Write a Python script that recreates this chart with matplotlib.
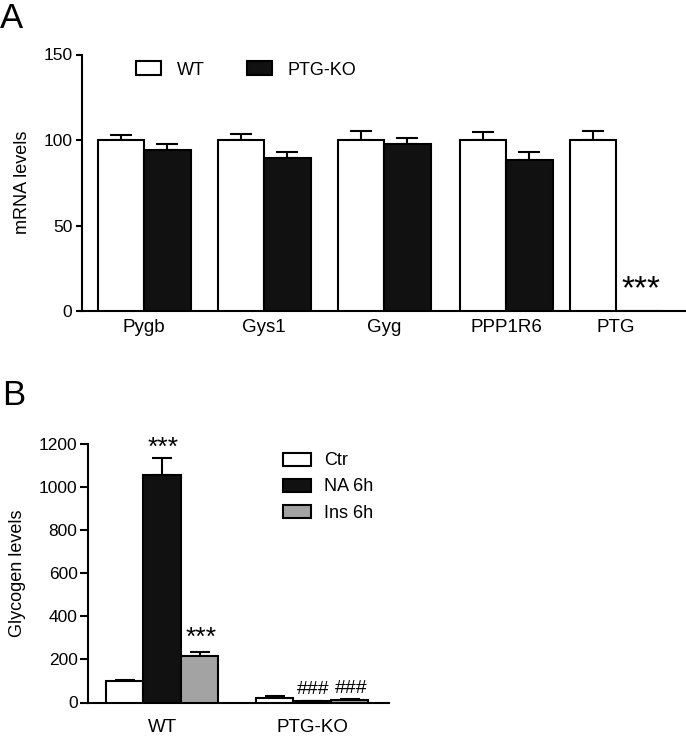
import matplotlib
matplotlib.use('Agg')
import matplotlib.pyplot as plt
import numpy as np

plt.rcParams['font.family'] = ['Liberation Sans', 'DejaVu Sans']

# ---------------- Panel A data ----------------
genes = ['Pygb', 'Gys1', 'Gyg', 'PPP1R6', 'PTG']
wt_mrna = [100, 100, 100, 100, 100]
wt_mrna_sem = [3.2, 3.6, 5.0, 4.6, 5.4]
ko_mrna = [94, 89.5, 97.7, 88.3, 0]
ko_mrna_sem = [3.5, 3.6, 3.6, 4.7, 0]
mrna_yticks = [0, 50, 100, 150]

# ---------------- Panel B data ----------------
genotypes = ['WT', 'PTG-KO']
treatments = ['Ctr', 'NA 6h', 'Ins 6h']
ctr_glyc = [101, 20]
ctr_sem = [3, 8]
na_glyc = [1055, 7]
na_sem = [82, 2]
ins_glyc = [215, 11]
ins_sem = [21, 3]
glyc_yticks = [0, 200, 400, 600, 800, 1000, 1200]

W, H = 686, 737
fig = plt.figure(figsize=(W / 100, H / 100), dpi=100)
BLACK = '#111111'
GRAY = '#a3a3a3'
LW = 1.5


def rect(l, t, r, b):
    return [l / W, 1 - b / H, (r - l) / W, (b - t) / H]


def style(ax):
    for s in ['top', 'right']:
        ax.spines[s].set_visible(False)
    for s in ['left', 'bottom']:
        ax.spines[s].set_linewidth(LW)


# ---------------- Panel A ----------------
axA = fig.add_axes(rect(82, 54.5, 686, 311))
style(axA)
gA = np.array([62, 182, 302, 424, 534])
wA = 46.5
bw = axA.bar(gA - wA / 2, wt_mrna, wA, color='white', edgecolor='black', linewidth=LW, zorder=3)
bk = axA.bar(gA + wA / 2, ko_mrna, wA, color=BLACK, edgecolor='black', linewidth=LW, zorder=3)
axA.errorbar(gA - wA / 2, wt_mrna, yerr=[np.zeros(5), wt_mrna_sem], fmt='none',
             ecolor='black', elinewidth=LW, capsize=8, capthick=LW, zorder=2)
axA.errorbar(gA[:4] + wA / 2, ko_mrna[:4], yerr=[np.zeros(4), ko_mrna_sem[:4]], fmt='none',
             ecolor='black', elinewidth=LW, capsize=8, capthick=LW, zorder=2)
axA.set_xlim(0, 604)
axA.set_ylim(0, 150)
axA.set_yticks(mrna_yticks)
axA.set_xticks(gA)
axA.set_xticklabels(genes, fontsize=13.5)
axA.tick_params(axis='x', length=0, pad=6)
axA.tick_params(axis='y', length=4.5, width=LW, pad=2.5, labelsize=12.5)
axA.set_ylabel('mRNA levels', fontsize=13)
axA.yaxis.set_label_coords((31 - 82) / 604, 0.5)
axA.text(gA[4] + wA / 2 + 2, 12.5, '***', ha='center', va='center', fontsize=24)
axA.legend([bw, bk], ['WT', 'PTG-KO'], ncol=2, frameon=False, fontsize=13,
           handlelength=1.39, handleheight=0.78, handletextpad=0.89, columnspacing=2.3,
           borderpad=0, borderaxespad=0, loc='center left',
           bbox_to_anchor=(136 / W, 1 - 70 / H), bbox_transform=fig.transFigure)

# ---------------- Panel B ----------------
axB = fig.add_axes(rect(88, 444, 389, 702.5))
style(axB)
gB = np.array([74, 224])
wB = 37.5
colors = ['white', BLACK, GRAY]
vals = [ctr_glyc, na_glyc, ins_glyc]
sems = [ctr_sem, na_sem, ins_sem]
handles = []
for k in range(3):
    x = gB + (k - 1) * wB
    b = axB.bar(x, vals[k], wB, color=colors[k], edgecolor='black', linewidth=LW, zorder=3)
    axB.errorbar(x, vals[k], yerr=[np.zeros(2), sems[k]], fmt='none', ecolor='black',
                 elinewidth=LW, capsize=7, capthick=LW, zorder=2)
    handles.append(b)
axB.set_xlim(0, 301)
axB.set_ylim(0, 1200)
axB.set_yticks(glyc_yticks)
axB.set_xticks(gB)
axB.set_xticklabels(genotypes, fontsize=13.5)
axB.tick_params(axis='x', length=0, pad=12)
axB.tick_params(axis='y', length=6, width=LW, pad=1.5, labelsize=12.5)
axB.set_ylabel('Glycogen levels', fontsize=13)
axB.yaxis.set_label_coords((26 - 88) / 301, 0.5)
axB.annotate('***', xy=(gB[0], na_glyc[0] + na_sem[0]), xytext=(1, 7), textcoords='offset points',
             ha='center', va='center', fontsize=19)
axB.annotate('***', xy=(gB[0] + wB, ins_glyc[0] + ins_sem[0]), xytext=(1, 10), textcoords='offset points',
             ha='center', va='center', fontsize=19)
for k in (1, 2):
    axB.annotate('###', xy=(gB[1] + (k - 1) * wB, vals[k][1] + sems[k][1]), xytext=(1, 8),
                 textcoords='offset points', ha='center', va='center', fontsize=14)
axB.legend(handles, treatments, frameon=False, fontsize=13,
           handlelength=1.55, handleheight=0.72, handletextpad=0.72, labelspacing=0.5,
           borderpad=0, borderaxespad=0, loc='center left',
           bbox_to_anchor=(283 / W, 1 - 487 / H), bbox_transform=fig.transFigure)

fig.text(0 / W, 1 - 28 / H, 'A', fontsize=25, va='baseline', ha='left')
fig.text(2 / W, 1 - 405 / H, 'B', fontsize=25, va='baseline', ha='left')

fig.savefig('out.png', dpi=100)
